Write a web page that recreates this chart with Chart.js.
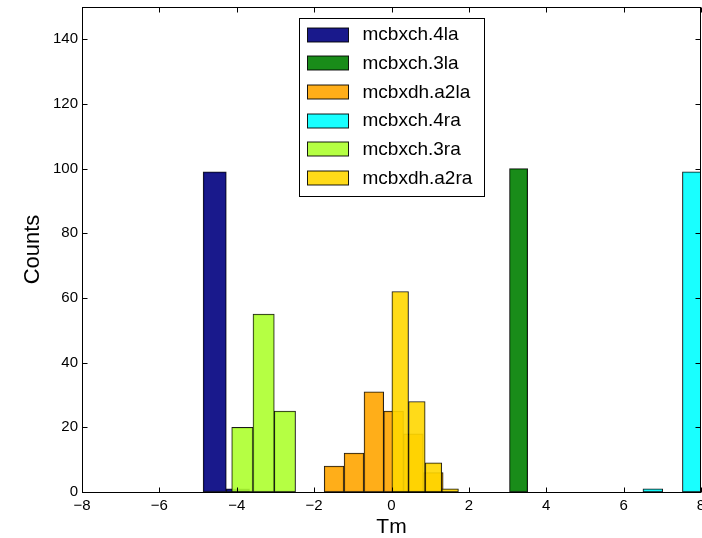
<!DOCTYPE html>
<html>
<head>
<meta charset="utf-8">
<title>Histograma Tm</title>
<script src="https://cdn.jsdelivr.net/npm/chart.js@4.4.1/dist/chart.umd.min.js"></script>
<style>
  html, body { margin: 0; padding: 0; background: #fff; }
  canvas { display: block; }
</style>
</head>
<body>
<canvas id="histTm" width="702" height="538"></canvas>
<script>
// Nombres de las series (orden de la leyenda)
const nombres = ['mcbxch.4la', 'mcbxch.3la', 'mcbxdh.a2la', 'mcbxch.4ra', 'mcbxch.3ra', 'mcbxdh.a2ra'];

// Bordes de los bins (Tm) y cuentas de cada serie
const bordes4la = [-4.87, -4.27, -3.67];
const cuentas4la = [99, 1];
const bordes3la = [3.05, 3.52];
const cuentas3la = [100];
const bordesA2la = [-1.74, -1.23, -0.71, -0.20, 0.31, 0.82, 1.34];
const cuentasA2la = [8, 12, 31, 25, 18, 6];
const bordes4ra = [6.50, 7.01, 7.52, 8.03];
const cuentas4ra = [1, 0, 99];
const bordes3ra = [-4.13, -3.58, -3.03, -2.48];
const cuentas3ra = [20, 55, 25];
const bordesA2ra = [0.01, 0.44, 0.87, 1.30, 1.73];
const cuentasA2ra = [62, 28, 9, 1];

// Ticks de los ejes
const ticksX = [-8, -6, -4, -2, 0, 2, 4, 6, 8];
const ticksY = [0, 20, 40, 60, 80, 100, 120, 140];

const colores = [
  'rgba(0, 0, 128, 0.9)',
  'rgba(0, 128, 0, 0.9)',
  'rgba(255, 165, 0, 0.9)',
  'rgba(0, 255, 255, 0.9)',
  'rgba(173, 255, 47, 0.9)',
  'rgba(255, 215, 0, 0.9)',
];
const bordes = [bordes4la, bordes3la, bordesA2la, bordes4ra, bordes3ra, bordesA2ra];
const cuentas = [cuentas4la, cuentas3la, cuentasA2la, cuentas4ra, cuentas3ra, cuentasA2ra];

// Cada bin se dibuja en su centro; el ancho se fija después con la escala
function histograma(b, c) {
  return c.map((n, i) => ({ x: (b[i] + b[i + 1]) / 2, y: n }));
}

const fuente = "'Liberation Sans', Arial, sans-serif";
Chart.defaults.font.family = fuente;
Chart.defaults.color = '#000';

// Marco, ticks hacia dentro y leyenda con recuadro
const marcoYLeyenda = {
  id: 'marcoYLeyenda',
  afterDraw(chart) {
    const { ctx, chartArea: a, scales } = chart;
    const linea = (x1, y1, x2, y2) => {
      ctx.beginPath();
      ctx.moveTo(x1, y1);
      ctx.lineTo(x2, y2);
      ctx.stroke();
    };
    ctx.save();
    ctx.strokeStyle = '#000';
    ctx.lineWidth = 1;
    const l = Math.round(a.left) + 0.5, r = Math.round(a.right) - 0.5;
    const t = Math.round(a.top) + 0.5, b = Math.round(a.bottom) + 0.5;
    ctx.strokeRect(l, t, r - l, b - t);

    scales.x.ticks.forEach((tk, i) => {
      const px = Math.round(scales.x.getPixelForTick(i)) + 0.5;
      linea(px, b, px, b - 5);
      linea(px, t, px, t + 5);
    });
    scales.y.ticks.forEach((tk, i) => {
      const py = Math.round(scales.y.getPixelForTick(i)) + 0.5;
      linea(l, py, l + 5, py);
      linea(r, py, r - 5, py);
    });

    // Leyenda
    const ancho = 185, alto = 178;
    const lx = Math.round((a.left + a.right) / 2 - ancho / 2) + 0.5;
    const ly = Math.round(a.top) + 11.5;
    ctx.fillStyle = '#fff';
    ctx.fillRect(lx, ly, ancho, alto);
    ctx.strokeRect(lx, ly, ancho, alto);
    ctx.font = '19px ' + fuente;
    ctx.textBaseline = 'middle';
    ctx.textAlign = 'left';
    chart.data.datasets.forEach((ds, i) => {
      const fy = ly + 9 + i * 28.7;
      ctx.fillStyle = ds.backgroundColor;
      ctx.fillRect(lx + 8, Math.round(fy), 41, 14);
      ctx.strokeStyle = ds.borderColor;
      ctx.strokeRect(lx + 8, Math.round(fy), 41, 14);
      ctx.fillStyle = '#000';
      ctx.fillText(ds.label, lx + 63, fy + 7.5);
    });
    ctx.restore();
  }
};

const ctxHist = document.getElementById('histTm').getContext('2d');
const chart = new Chart(ctxHist, {
  type: 'bar',
  data: {
    datasets: nombres.map((nombre, i) => ({
      label: nombre,
      data: histograma(bordes[i], cuentas[i]),
      bordes: bordes[i],
      backgroundColor: colores[i],
      borderColor: 'rgba(0, 0, 0, 0.9)',
      borderWidth: 1,
      borderSkipped: false,
      grouped: false,
      order: nombres.length - 1 - i,
    })),
  },
  options: {
    responsive: false,
    animation: false,
    layout: { padding: { top: 7, right: 1, bottom: 0, left: 0 } },
    plugins: {
      legend: { display: false },
      tooltip: { enabled: false },
    },
    scales: {
      x: {
        type: 'linear',
        offset: false,
        min: -8,
        max: 8,
        grid: { display: false, drawTicks: false, offset: false },
        border: { display: false },
        afterBuildTicks: s => { s.ticks = ticksX.map(v => ({ value: v })); },
        ticks: {
          padding: 5,
          maxRotation: 0,
          autoSkip: false,
          font: { size: 15 },
          callback: v => String(v).replace('-', '\u2212'),
        },
        title: { display: true, text: 'Tm', font: { size: 21, lineHeight: 1 }, padding: 0 },
        afterFit: s => {
          s.height = 46;
          s.paddingLeft = 0;
          s.paddingRight = 0;
        },
      },
      y: {
        min: 0,
        max: 150,
        grid: { display: false, drawTicks: false },
        border: { display: false },
        afterBuildTicks: s => { s.ticks = ticksY.map(v => ({ value: v })); },
        ticks: { padding: 4, font: { size: 15 } },
        title: { display: true, text: 'Counts', font: { size: 22, lineHeight: 1 }, padding: { top: 22, bottom: 0 } },
        afterFit: s => {
          s.width = 82;
          s.paddingTop = 0;
          s.paddingBottom = 0;
        },
      },
    },
  },
  plugins: [marcoYLeyenda],
});

// Ancho de cada barra = ancho del bin medido en la escala X
const ejeX = chart.scales.x;
chart.data.datasets.forEach(ds => {
  ds.barThickness = ejeX.getPixelForValue(ds.bordes[1]) - ejeX.getPixelForValue(ds.bordes[0]);
});
chart.update();
</script>
</body>
</html>
